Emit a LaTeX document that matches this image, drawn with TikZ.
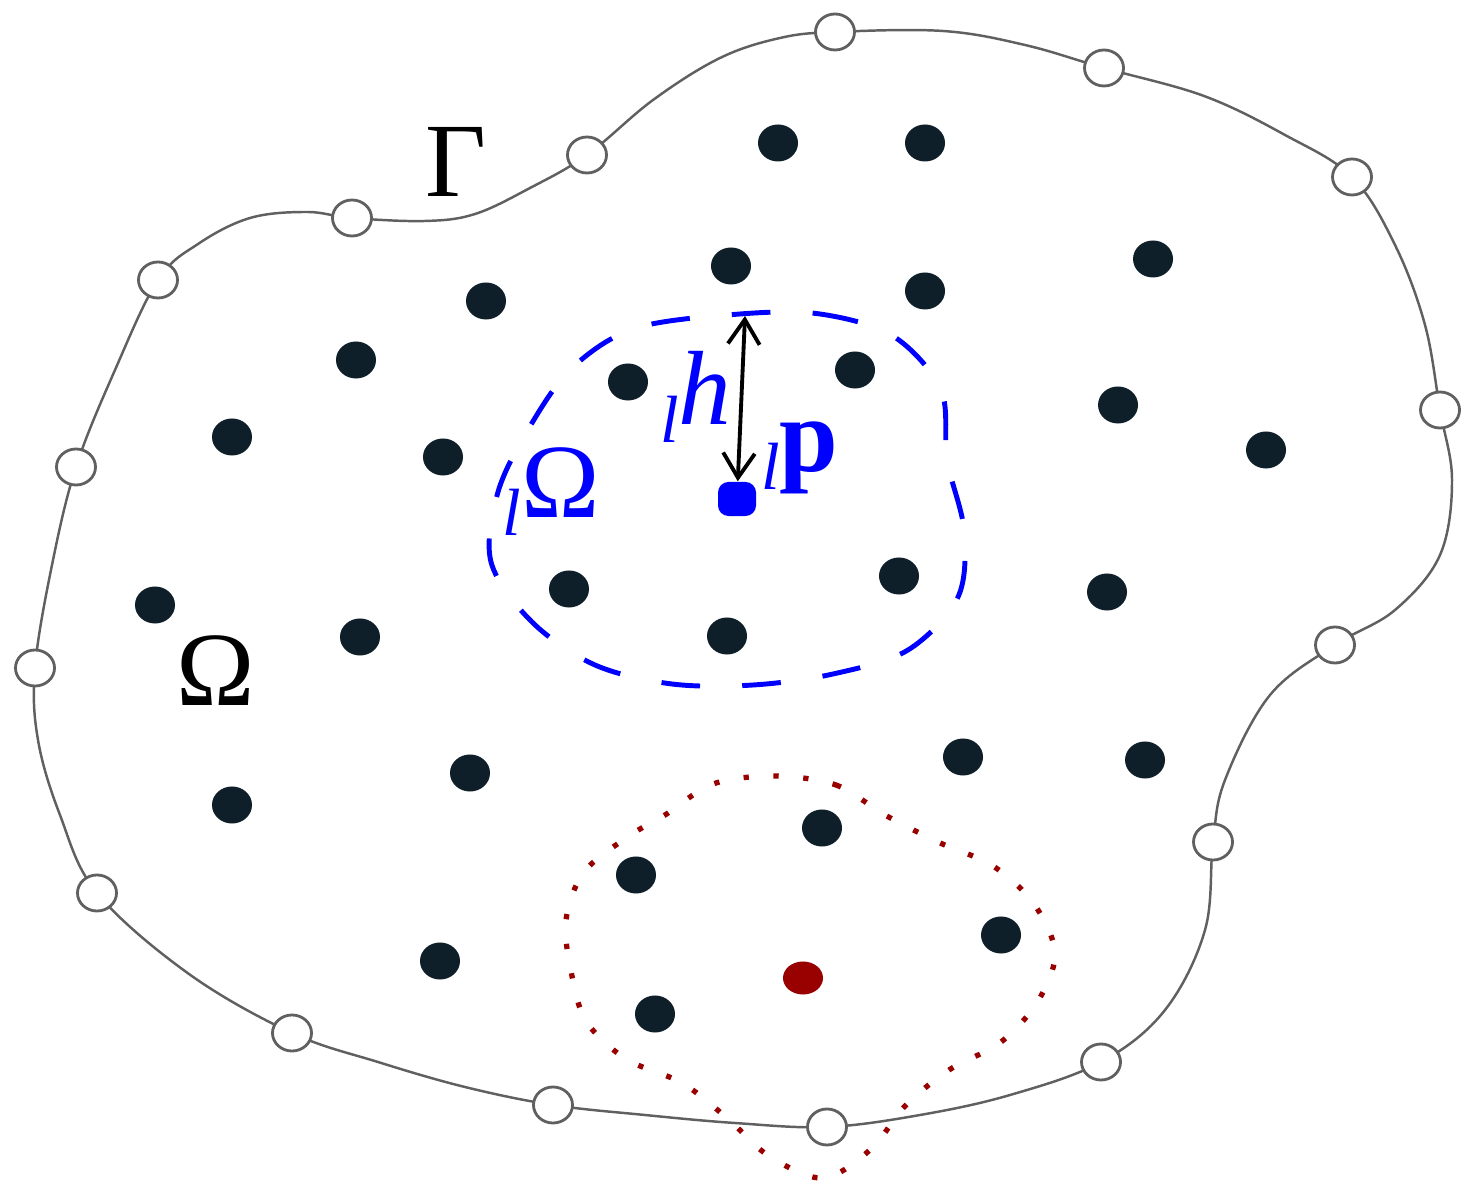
\documentclass[tikz,border=0pt]{standalone}
\usepackage{fontspec}
\setmainfont{Liberation Serif}
\usetikzlibrary{arrows.meta,shapes.geometric}
\definecolor{ink}{HTML}{0F1F29}
\definecolor{rim}{HTML}{606060}
\definecolor{darkred}{HTML}{990000}
\tikzset{>={Straight Barb[length=7pt,width=9pt]}}
\newcommand{\lpre}{\raisebox{-5pt}{\fontsize{19}{20}\selectfont\itshape l}}

\begin{document}
\begin{tikzpicture}[x=0.01cm,y=-0.01cm,
                    field/.style={ellipse,fill=ink,inner sep=0,minimum width=0.4cm,minimum height=0.37cm},
                    bnd/.style={ellipse,draw=rim,line width=0.8pt,fill=white,inner sep=0,minimum width=0.39cm,minimum height=0.36cm},
                    lbl/.style={inner sep=0,anchor=base,font=\fontsize{30}{32}\selectfont},
       ]
    \useasboundingbox (0,0) rectangle (1473,1198);

    % boundary points
    \foreach \p [count=\k] in {{835,32},{1104,68},{1352,177},{1440,410},{1335,645},{1213,842},{1101,1062},{827,1127},
                               {553,1105},{292,1033},{97,893},{35,668},{76,467},{158,280},{352,218},{587,155}}
        \coordinate (b\k) at (\p);

    \draw[rim,line width=0.7pt] plot[smooth cycle,tension=0.6] coordinates {
        (b1) (943,31) (1025,45) (b2) (1204,96) (1285,135) (b3) (1395,245) (1425,325) (b4) (1452,480) (1440,555)
        (1395,610) (b5) (1270,695) (1225,780) (b6) (1205,930) (1165,1010) (b7) (1010,1095) (920,1115) (b8)
        (735,1123) (645,1115) (b9) (465,1087) (378,1062) (b10) (189,974) (b11) (60,815) (38,740) (b12) (52,565)
        (b13) (115,370) (b14) (198,244) (250,218) (307,212) (b15) (425,221) (475,214) (530,188) (b16) (653,100)
        (720,58) (780,38)};

    \foreach \k in {1,...,16}
        \node[bnd] (n\k) at (b\k) {};

    % interior points
    \foreach \p [count=\k] in {{778,143},{925,143},{1153,259},{731,266},{925,291},{486,301},{356,360},{628,382},
                               {855,370},{1118,405},{232,437},{443,457},{1266,450},{155,605},{360,637},{569,589},
                               {899,576},{1107,592},{727,636},{963,757},{1145,760},{470,773},{232,805},{822,828},
                               {636,875},{1001,935},{440,961},{655,1014}}
        \node[field] (f\k) at (\p) {};

    % support of the blue point
    \draw[blue,line width=1.4pt,dash pattern=on 11pt off 12pt] plot[smooth cycle,tension=0.55] coordinates {
        (740,314) (820,314) (893,336) (941,390) (947,460) (964,530) (958,597) (908,650) (833,674) (753,685)
        (672,684) (595,665) (532,622) (491,562) (498,492) (529,428) (572,368) (636,328)};

    % support of the red point
    \draw[darkred,line width=1.5pt,dash pattern=on 1.5pt off 7pt] plot[smooth cycle,tension=0.55] coordinates {
        (774,776) (836,785) (885,815) (938,842) (993,866) (1034,904) (1055,953) (1038,1001) (1001,1042)
        (949,1070) (905,1106) (871,1149) (823,1178) (769,1156) (727,1118) (682,1083) (626,1059) (586,1021)
        (571,971) (566,920) (584,872) (629,836) (665,815) (713,784)};

    \node[fill=blue,rounded corners=3pt,inner sep=0,minimum width=0.38cm,minimum height=0.34cm] (lp) at (737,499) {};
    \node[ellipse,fill=darkred,inner sep=0,minimum width=0.4cm,minimum height=0.33cm] (q) at (803,978) {};
    \coordinate (rimtop) at (745,316);
    \draw[<->,line width=1.1pt] (rimtop) -- (lp);

    \node[lbl] (gamma) at (456,197) {Γ};
    \node[lbl] (omega) at (216,706) {Ω};
    \node[lbl,text=blue] (lomega) at (551,518) {\lpre Ω};
    \node[lbl,text=blue] (lh) at (696,425) {\lpre\textit{h}};
    \node[lbl,text=blue] (lpl) at (800,472) {\lpre\textbf{p}};
\end{tikzpicture}
\end{document}
